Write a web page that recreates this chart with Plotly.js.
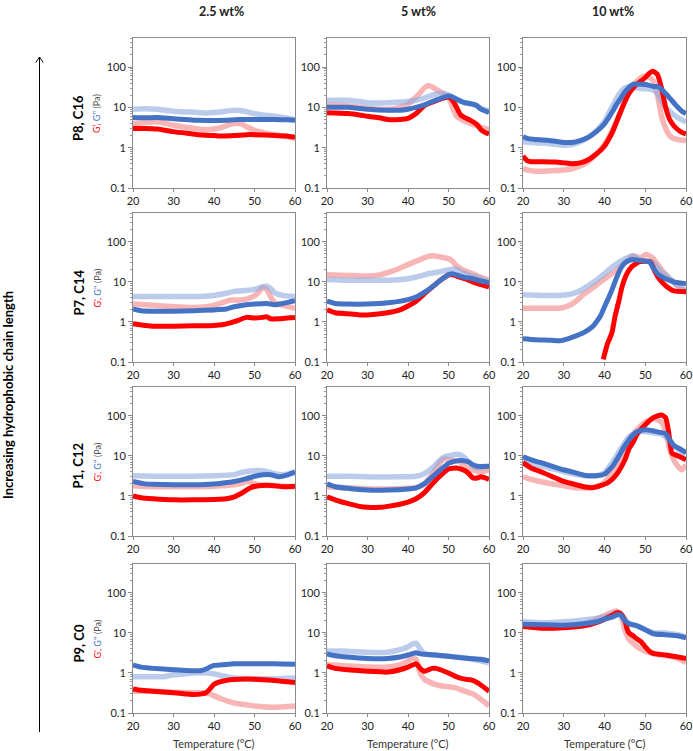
<!DOCTYPE html>
<html>
<head>
<meta charset="utf-8">
<script src="https://cdn.plot.ly/plotly-3.0.1.min.js"></script>
<style>html,body{margin:0;padding:0;background:#fff;}#chart{width:693px;height:751px;}</style>
</head>
<body>
<div id="chart"></div>
<script>
// ---- Labels ----
const concentrations = ['2.5 wt%', '5 wt%', '10 wt%'];
const samples = ['P8, C16', 'P7, C14', 'P1, C12', 'P9, C0'];
const xTicks = [20, 30, 40, 50, 60];
const yTicks = [0.1, 1, 10, 100];
const yTickText = ['0.1', '1', '10', '100'];
const xTitle = 'Temperature (°C)';
const sideTitle = 'Increasing hydrophobic chain length';

// ---- Data: [temperature °C, modulus Pa] ----
// Row 1: P8, C16
const r1c1_Gpp_open = [[20,9],[23,9.2],[26,9],[28,8.5],[30,8],[33,7.7],[36,7.5],[38,7.2],[40,7.5],[42,7.8],[44,8.3],[46,8.5],[48,7.8],[50,7],[52,6.5],[55,6],[58,5.4],[60,5]];
const r1c1_Gpp_fill = [[20,5.6],[23,5.5],[26,5.6],[30,5.2],[33,5],[36,4.8],[40,4.7],[43,4.8],[46,5],[50,5],[55,5],[58,4.9],[60,4.8]];
const r1c1_Gp_open  = [[20,4],[22,4.1],[24,4.3],[26,4.4],[28,4],[30,3.6],[33,3.2],[36,2.9],[38,2.8],[40,2.9],[42,3.2],[44,3.8],[46,4],[47,3.8],[48,3.3],[50,2.7],[52,2.4],[55,2.1],[58,1.9],[60,1.7]];
const r1c1_Gp_fill  = [[20,3],[23,3],[26,2.9],[28,2.7],[30,2.5],[33,2.3],[36,2.1],[40,2],[42,1.95],[45,2],[48,2.1],[50,2.1],[55,2],[58,1.95],[60,1.8]];

const r1c2_Gpp_open = [[20,15],[25,15],[28,14],[30,13],[35,13],[38,13.5],[40,14],[42,15],[44,17],[46,20],[48,22],[49,22],[51,18],[53,14],[55,12.5],[57,11],[58,9.5],[60,8]];
const r1c2_Gpp_fill = [[20,10],[25,10],[30,9],[35,8.5],[38,8.5],[40,9],[42,10],[44,11.5],[46,14],[48,16.5],[50,19],[51,18],[52,16],[54,13],[56,12],[57,11],[58,9],[60,7.5]];
const r1c2_Gp_open  = [[20,11.5],[25,11],[30,9.5],[35,9],[38,10],[40,12],[42,18],[43,23],[44,30],[45,35],[46,32],[48,24],[50,18],[51,10],[52,6],[54,4.5],[56,3.8],[58,3.2],[60,2.8]];
const r1c2_Gp_fill  = [[20,7.4],[25,7],[28,6.5],[30,6],[33,5.5],[35,5],[38,5],[40,5.3],[42,7],[44,11],[46,13.5],[48,16],[50,18],[51,15],[52,10],[53,6.5],[55,5],[57,3.8],[58,2.8],[59,2.4],[60,2.2]];

const r1c3_Gpp_open = [[20,1.4],[22,1.35],[25,1.3],[28,1.2],[30,1.15],[32,1.2],[34,1.4],[36,1.8],[38,2.6],[40,4.5],[41,7],[42,11],[43,17],[44,24],[45,30],[46,33],[48,30],[50,29],[52,27],[53,22],[54,14],[55,10],[56,8],[58,5.5],[60,4.3]];
const r1c3_Gpp_fill = [[20,1.9],[21,1.7],[23,1.6],[25,1.55],[28,1.45],[30,1.35],[32,1.35],[34,1.5],[36,1.8],[38,2.5],[40,3.9],[41,5.5],[42,8],[43,12],[44,17],[45,24],[46,31],[47,37],[48,38],[50,37],[52,33],[53,33],[54,28],[55,22],[56,17],[57,13],[58,10],[59,8],[60,7]];
const r1c3_Gp_open  = [[20,0.31],[21,0.28],[23,0.26],[25,0.26],[28,0.27],[30,0.28],[32,0.3],[34,0.35],[36,0.45],[38,0.7],[40,1.2],[41,1.8],[42,2.8],[43,4.5],[44,8],[45,14],[46,24],[47,35],[48,45],[49,55],[50,60],[51,55],[52,45],[53,20],[54,6],[55,3],[56,2],[57,1.7],[58,1.6],[60,1.5]];
const r1c3_Gp_fill  = [[20,0.62],[21,0.48],[22,0.45],[25,0.45],[28,0.44],[30,0.42],[32,0.4],[34,0.42],[36,0.5],[38,0.7],[39,0.85],[40,1.1],[41,1.6],[42,2.5],[43,4.5],[44,8],[45,14],[46,22],[47,30],[48,38],[49,45],[50,55],[51,70],[52,78],[53,65],[54,30],[55,10],[56,5],[57,3.5],[58,2.8],[59,2.4],[60,2.2]];

// Row 2: P7, C14
const r2c1_Gpp_open = [[20,4.3],[25,4.3],[30,4.3],[35,4.3],[40,4.6],[43,5.2],[45,5.8],[48,6.1],[50,6.5],[51,7],[52,7.6],[53,7.8],[54,6.8],[55,5.3],[57,4.6],[60,4.3]];
const r2c1_Gpp_fill = [[20,2.1],[22,1.9],[25,1.85],[30,1.85],[35,1.9],[40,2],[43,2.1],[45,2.4],[48,2.7],[50,2.8],[53,2.9],[55,2.7],[57,2.9],[60,3.4]];
const r2c1_Gp_open  = [[20,2.8],[25,2.6],[30,2.4],[35,2.3],[38,2.4],[40,2.6],[42,3],[44,3.5],[46,3.5],[48,3.7],[50,4.5],[51,5.5],[52,7.3],[53,6.5],[54,4.2],[55,3],[57,2.6],[60,2.2]];
const r2c1_Gp_fill  = [[20,0.9],[23,0.82],[25,0.78],[30,0.78],[35,0.8],[40,0.82],[42,0.85],[44,0.95],[46,1.1],[48,1.3],[50,1.25],[52,1.3],[53,1.35],[54,1.2],[56,1.2],[58,1.25],[60,1.3]];

const r2c2_Gpp_open = [[20,11.5],[25,11],[30,11],[35,11],[40,12],[43,14],[45,16],[48,18],[50,20],[52,21],[53,18],[55,15],[57,13],[60,10]];
const r2c2_Gpp_fill = [[20,3.3],[22,2.9],[25,2.8],[30,2.8],[35,3],[40,3.6],[42,4.2],[44,5.5],[46,7.5],[48,11],[50,15],[51,16],[52,15],[54,13],[56,12],[58,10.5],[60,9.5]];
const r2c2_Gp_open  = [[20,15],[25,14.5],[30,14],[33,15],[35,17],[38,22],[40,27],[42,33],[44,40],[46,45],[48,42],[50,38],[51,33],[52,25],[54,19],[56,16],[58,13],[60,11]];
const r2c2_Gp_fill  = [[20,2],[22,1.7],[25,1.6],[28,1.5],[30,1.5],[35,1.7],[38,2],[40,2.5],[42,3.3],[44,5],[46,7.5],[48,11],[50,15],[51,15],[52,14],[54,12],[56,10],[58,8.5],[60,7.5]];

const r2c3_Gpp_open = [[20,4.8],[25,4.6],[29,4.6],[32,5],[34,6],[36,8],[38,11],[40,16],[42,24],[44,33],[46,42],[47,45],[48,38],[50,33],[52,30],[54,18],[56,12],[58,8],[60,6]];
const r2c3_Gpp_fill = [[20,0.38],[23,0.36],[27,0.35],[29,0.34],[31,0.38],[33,0.45],[35,0.55],[37,0.75],[38,1],[39,1.4],[40,2.4],[41,4],[42,7],[43,13],[44,22],[45,30],[46,34],[47,36],[48,35],[50,33],[51,32],[52,22],[53,16],[54,13.5],[55,12],[57,10],[59,9.3],[60,9]];
const r2c3_Gp_open  = [[20,2.2],[25,2.2],[29,2.2],[31,2.5],[33,3.3],[35,5],[37,7],[39,10],[41,14],[43,20],[45,30],[47,45],[48,42],[49,40],[50,48],[51,45],[52,38],[54,20],[56,12],[58,8],[60,5.5]];
const r2c3_Gp_fill  = [[39.7,0.117],[40.7,0.28],[41.8,0.53],[42.6,1.4],[43.6,3.6],[44.2,6.9],[45.5,16],[46.7,24],[48.7,32],[51.2,32],[52.4,18],[53.7,11],[55.3,7.6],[57,6],[60,5.7]];

// Row 3: P1, C12
const r3c1_Gpp_open = [[20,3.2],[25,3.1],[30,3.1],[35,3.1],[40,3.2],[45,3.4],[47,3.9],[49,4.2],[51,4.3],[53,4.1],[55,3.6],[57,3.4],[60,3.8]];
const r3c1_Gpp_fill = [[20,2.3],[23,2],[25,1.95],[30,1.9],[35,1.9],[40,2],[45,2.3],[48,2.7],[50,3.1],[52,3.4],[54,3.4],[56,3],[58,3.3],[60,4]];
const r3c1_Gp_open  = [[20,1.8],[25,1.7],[30,1.7],[35,1.7],[40,1.75],[45,1.9],[47,2.1],[48,2.3],[49,2.2],[50,2],[52,1.85],[55,1.8],[60,1.7]];
const r3c1_Gp_fill  = [[20,1],[22,0.9],[25,0.85],[30,0.8],[35,0.8],[40,0.82],[43,0.85],[45,0.95],[47,1.2],[49,1.6],[51,1.8],[53,1.85],[55,1.8],[57,1.7],[60,1.75]];

const r3c2_Gpp_open = [[20,3.1],[25,3.1],[30,3],[38,3],[42,3.1],[44,3.6],[46,5],[48,8],[49,9.5],[50,10],[52,11],[53,10.5],[54,9],[55,7],[57,5],[60,5.5]];
const r3c2_Gpp_fill = [[20,2],[22,1.7],[25,1.55],[30,1.4],[35,1.4],[40,1.5],[42,1.6],[44,2],[46,3],[48,4.5],[50,6.5],[52,7.5],[54,7.5],[55,7],[56,6],[57,5.5],[60,5.5]];
const r3c2_Gp_open  = [[20,1.7],[25,1.6],[30,1.5],[35,1.5],[40,1.55],[42,1.6],[44,2],[46,3.5],[48,7],[49,8.5],[50,8],[52,7.5],[53,7],[54,5.5],[56,4.5],[58,4],[60,4.5]];
const r3c2_Gp_fill  = [[20,0.95],[22,0.8],[25,0.65],[28,0.55],[30,0.52],[33,0.52],[35,0.55],[38,0.62],[40,0.7],[42,0.85],[44,1.2],[46,2],[48,3.2],[50,4.7],[52,5],[54,4.3],[55,3.6],[56,2.8],[57,2.8],[58,3],[60,2.6]];

const r3c3_Gpp_open = [[20,7],[25,5.5],[30,4],[35,3.2],[38,3.2],[40,3.8],[42,7],[44,15],[46,30],[48,40],[50,40],[52,38],[54,35],[55,30],[56,25],[57,18],[58,15],[60,11]];
const r3c3_Gpp_fill = [[20,9.5],[22,8],[25,6.5],[28,5.2],[30,4.5],[32,4],[35,3.3],[38,3.2],[40,3.5],[42,5.5],[43,8],[44,12],[45,18],[46,25],[47,33],[48,40],[50,45],[52,42],[54,38],[55,36],[56,25],[57,18],[58,16],[59,14],[60,12]];
const r3c3_Gp_open  = [[20,3],[22,2.6],[25,2.2],[30,1.8],[33,1.6],[36,1.6],[38,1.7],[40,2.2],[42,4],[44,10],[46,25],[48,45],[50,70],[52,85],[54,70],[55,40],[56,15],[57,8],[58,5.5],[59,4.5],[60,6]];
const r3c3_Gp_fill  = [[20,6.8],[22,5],[25,3.8],[28,2.8],[30,2.3],[33,1.9],[35,1.7],[37,1.6],[39,1.8],[41,2.2],[43,3.5],[45,8],[46,15],[47,22],[48,35],[50,60],[52,90],[53,100],[54,105],[55,90],[55.7,42],[56.5,12],[57,11],[58,10],[59,9],[60,8]];

// Row 4: P9, C0
const r4c1_Gpp_open = [[20,0.8],[25,0.8],[28,0.82],[30,0.9],[33,0.95],[35,1],[38,1],[40,0.95],[42,0.85],[45,0.75],[50,0.72],[55,0.72],[60,0.75]];
const r4c1_Gpp_fill = [[20,1.6],[22,1.4],[25,1.3],[30,1.2],[33,1.15],[37,1.15],[38,1.25],[39,1.4],[40,1.55],[42,1.6],[45,1.7],[50,1.7],[55,1.7],[60,1.65]];
const r4c1_Gp_open  = [[20,0.35],[25,0.35],[30,0.33],[35,0.32],[37,0.32],[39,0.3],[40,0.27],[42,0.22],[44,0.19],[46,0.17],[48,0.16],[50,0.15],[55,0.14],[60,0.15]];
const r4c1_Gp_fill  = [[20,0.4],[22,0.37],[25,0.35],[30,0.32],[33,0.3],[35,0.29],[37,0.3],[38,0.32],[39,0.4],[40,0.52],[41,0.58],[42,0.62],[44,0.68],[46,0.7],[50,0.7],[55,0.65],[60,0.58]];

const r4c2_Gpp_open = [[20,3.5],[25,3.5],[30,3.3],[35,3.3],[38,3.8],[40,4.5],[41,5.2],[42,5.5],[43,4],[44,3],[46,2.8],[50,2.6],[55,2.3],[60,1.8]];
const r4c2_Gpp_fill = [[20,3],[22,2.7],[25,2.5],[30,2.3],[35,2.3],[38,2.5],[40,2.8],[42,3.2],[43,3],[45,2.9],[47,2.8],[50,2.6],[55,2.3],[58,2.2],[60,2]];
const r4c2_Gp_open  = [[20,1.6],[25,1.5],[30,1.4],[35,1.4],[38,1.6],[40,2],[41,2.3],[42,2.2],[43,1],[44,0.7],[46,0.55],[48,0.48],[50,0.45],[52,0.42],[54,0.35],[56,0.3],[58,0.22],[60,0.15]];
const r4c2_Gp_fill  = [[20,1.5],[22,1.3],[25,1.2],[30,1.1],[35,1.05],[38,1.2],[40,1.4],[42,1.7],[43,1.3],[44,1.1],[45,1.2],[46,1.3],[47,1.3],[48,1.2],[50,1],[52,0.8],[54,0.7],[56,0.65],[58,0.5],[60,0.35]];

const r4c3_Gpp_open = [[20,19],[25,18],[30,19],[35,21],[38,23],[40,25],[42,30],[43,32],[44,30],[45,22],[46,17],[48,15],[50,12],[52,10],[55,10],[58,9],[60,8]];
const r4c3_Gpp_fill = [[20,16.5],[25,16],[30,15.5],[35,17],[38,19],[40,22],[42,25],[43,28],[44,28],[45,20],[46,17],[48,15],[50,12],[52,9.5],[55,9],[58,8.5],[60,7.5]];
const r4c3_Gp_open  = [[20,15],[25,13.5],[30,14],[35,17],[38,22],[40,27],[42,33],[43,35],[44,28],[45,12],[46,7],[48,4.5],[50,3.5],[52,3],[55,2.7],[58,2.3],[60,1.8]];
const r4c3_Gp_fill  = [[20,14.5],[25,13],[30,13.5],[35,15],[38,18],[40,22],[42,28],[43,32],[44,30],[45,20],[45.5,13],[46,10],[47,8.5],[48,7],[49,6],[50,4.5],[51,3.5],[52,3.1],[55,2.8],[58,2.5],[60,2.3]];

const grid = [
  [[r1c1_Gp_open,r1c1_Gpp_open,r1c1_Gp_fill,r1c1_Gpp_fill],[r1c2_Gp_open,r1c2_Gpp_open,r1c2_Gp_fill,r1c2_Gpp_fill],[r1c3_Gp_open,r1c3_Gpp_open,r1c3_Gp_fill,r1c3_Gpp_fill]],
  [[r2c1_Gp_open,r2c1_Gpp_open,r2c1_Gp_fill,r2c1_Gpp_fill],[r2c2_Gp_open,r2c2_Gpp_open,r2c2_Gp_fill,r2c2_Gpp_fill],[r2c3_Gp_open,r2c3_Gpp_open,r2c3_Gp_fill,r2c3_Gpp_fill]],
  [[r3c1_Gp_open,r3c1_Gpp_open,r3c1_Gp_fill,r3c1_Gpp_fill],[r3c2_Gp_open,r3c2_Gpp_open,r3c2_Gp_fill,r3c2_Gpp_fill],[r3c3_Gp_open,r3c3_Gpp_open,r3c3_Gp_fill,r3c3_Gpp_fill]],
  [[r4c1_Gp_open,r4c1_Gpp_open,r4c1_Gp_fill,r4c1_Gpp_fill],[r4c2_Gp_open,r4c2_Gpp_open,r4c2_Gp_fill,r4c2_Gpp_fill],[r4c3_Gp_open,r4c3_Gpp_open,r4c3_Gp_fill,r4c3_Gpp_fill]]
];

// ---- Styling / layout ----
const W = 693, H = 751;
const colPx = [[133,295],[327,489],[523,686]];
const rowPx = [[38,188],[213,362],[387,536],[564,713]];
const seriesStyle = [
  {color:'rgba(242,120,120,0.55)', width:5.5},
  {color:'rgba(140,168,222,0.6)', width:5.5},
  {color:'#FF0000', width:5},
  {color:'#4472C4', width:5}
];
const FONT = 'Lato, "Open Sans", sans-serif';
const minorVals = [];
[0.1,1,10,100].forEach(d => { for (let k=2;k<=9;k++) { if (d*k <= 525) minorVals.push(d*k); } });

const traces = [];
const layout = {
  width: W, height: H,
  margin: {l:0, r:0, t:0, b:0},
  paper_bgcolor: '#fff', plot_bgcolor: '#fff',
  showlegend: false,
  font: {family: FONT, color: '#333'},
  annotations: [], shapes: []
};

let idx = 0;
for (let r = 0; r < 4; r++) {
  for (let c = 0; c < 3; c++) {
    idx++;
    const xa = idx === 1 ? 'x' : 'x' + idx;
    const ya = idx === 1 ? 'y' : 'y' + idx;
    grid[r][c].forEach((ser, s) => {
      const st = seriesStyle[s];
      traces.push({
        type: 'scatter', mode: 'lines',
        x: ser.map(p => p[0]), y: ser.map(p => p[1]),
        xaxis: xa, yaxis: ya,
        line: {color: st.color, width: st.width, shape: 'spline', smoothing: 0.5},
        hoverinfo: 'skip'
      });
    });
    const xk = idx === 1 ? 'xaxis' : 'xaxis' + idx;
    const yk = idx === 1 ? 'yaxis' : 'yaxis' + idx;
    layout[xk] = {
      domain: [colPx[c][0] / W, colPx[c][1] / W],
      anchor: ya, range: [20, 60],
      tickmode: 'array', tickvals: xTicks, ticktext: xTicks.map(String),
      ticks: 'outside', ticklen: 3, tickcolor: '#888',
      showline: true, linecolor: '#8a8a8a', linewidth: 1, mirror: true,
      showgrid: false, zeroline: false,
      tickfont: {family: FONT, size: 11, color: '#222'}
    };
    layout[yk] = {
      domain: [1 - rowPx[r][1] / H, 1 - rowPx[r][0] / H],
      anchor: xa, type: 'log', range: [-1, 2.72],
      tickmode: 'array', tickvals: yTicks, ticktext: yTickText,
      ticks: 'outside', ticklen: 4, tickcolor: '#888',
      minor: {tickmode: 'array', tickvals: minorVals, ticks: 'outside', ticklen: 2, tickcolor: '#999', showgrid: false},
      showline: true, linecolor: '#8a8a8a', linewidth: 1, mirror: true,
      showgrid: false, zeroline: false,
      tickfont: {family: FONT, size: 11, color: '#222'}
    };
  }
}

// Column headers
const headerX = [222, 418, 613];
concentrations.forEach((t, c) => {
  layout.annotations.push({xref:'paper', yref:'paper', x: headerX[c]/W, y: 1 - 12/H, text: '<b>' + t + '</b>',
    showarrow:false, xanchor:'center', yanchor:'middle', font:{family:FONT, size:12.5, color:'#222'}});
});
// Row labels
samples.forEach((t, r) => {
  const cy = (rowPx[r][0] + rowPx[r][1]) / 2;
  layout.annotations.push({xref:'paper', yref:'paper', x: 78/W, y: 1 - (cy + 5)/H, text: '<b>' + t + '</b>',
    textangle: -90, showarrow:false, xanchor:'center', yanchor:'middle', font:{family:FONT, size:13, color:'#000'}});
  layout.annotations.push({xref:'paper', yref:'paper', x: 97/W, y: 1 - (cy + 1)/H,
    text: '<span style="color:#FF0000">G\', </span><span style="color:#4472C4">G\'\'</span> (Pa)',
    textangle: -90, showarrow:false, xanchor:'center', yanchor:'middle', font:{family:FONT, size:9, color:'#555'}});
});
// X axis titles (bottom row)
colPx.forEach(cp => {
  layout.annotations.push({xref:'paper', yref:'paper', x: (cp[0]+cp[1])/2/W, y: 1 - 743/H, text: xTitle,
    showarrow:false, xanchor:'center', yanchor:'middle', font:{family:FONT, size:11, color:'#333'}});
});
// Side title & arrow
layout.annotations.push({xref:'paper', yref:'paper', x: 8/W, y: 1 - 395/H, text: '<b>' + sideTitle + '</b>',
  textangle: -90, showarrow:false, xanchor:'center', yanchor:'middle', font:{family:FONT, size:13, color:'#000'}});
layout.shapes.push({type:'line', xref:'paper', yref:'paper', x0: 39.5/W, x1: 39.5/W, y0: 1 - 57/H, y1: 1 - 732/H,
  line:{color:'#000', width:1}});
layout.shapes.push({type:'path', xref:'paper', yref:'paper',
  path: 'M ' + (35.8/W) + ',' + (1 - 62.5/H) + ' L ' + (39.5/W) + ',' + (1 - 57/H) + ' L ' + (43.2/W) + ',' + (1 - 62.5/H),
  line:{color:'#000', width:1}});

Plotly.newPlot('chart', traces, layout, {staticPlot: true, displayModeBar: false});
</script>
</body>
</html>
